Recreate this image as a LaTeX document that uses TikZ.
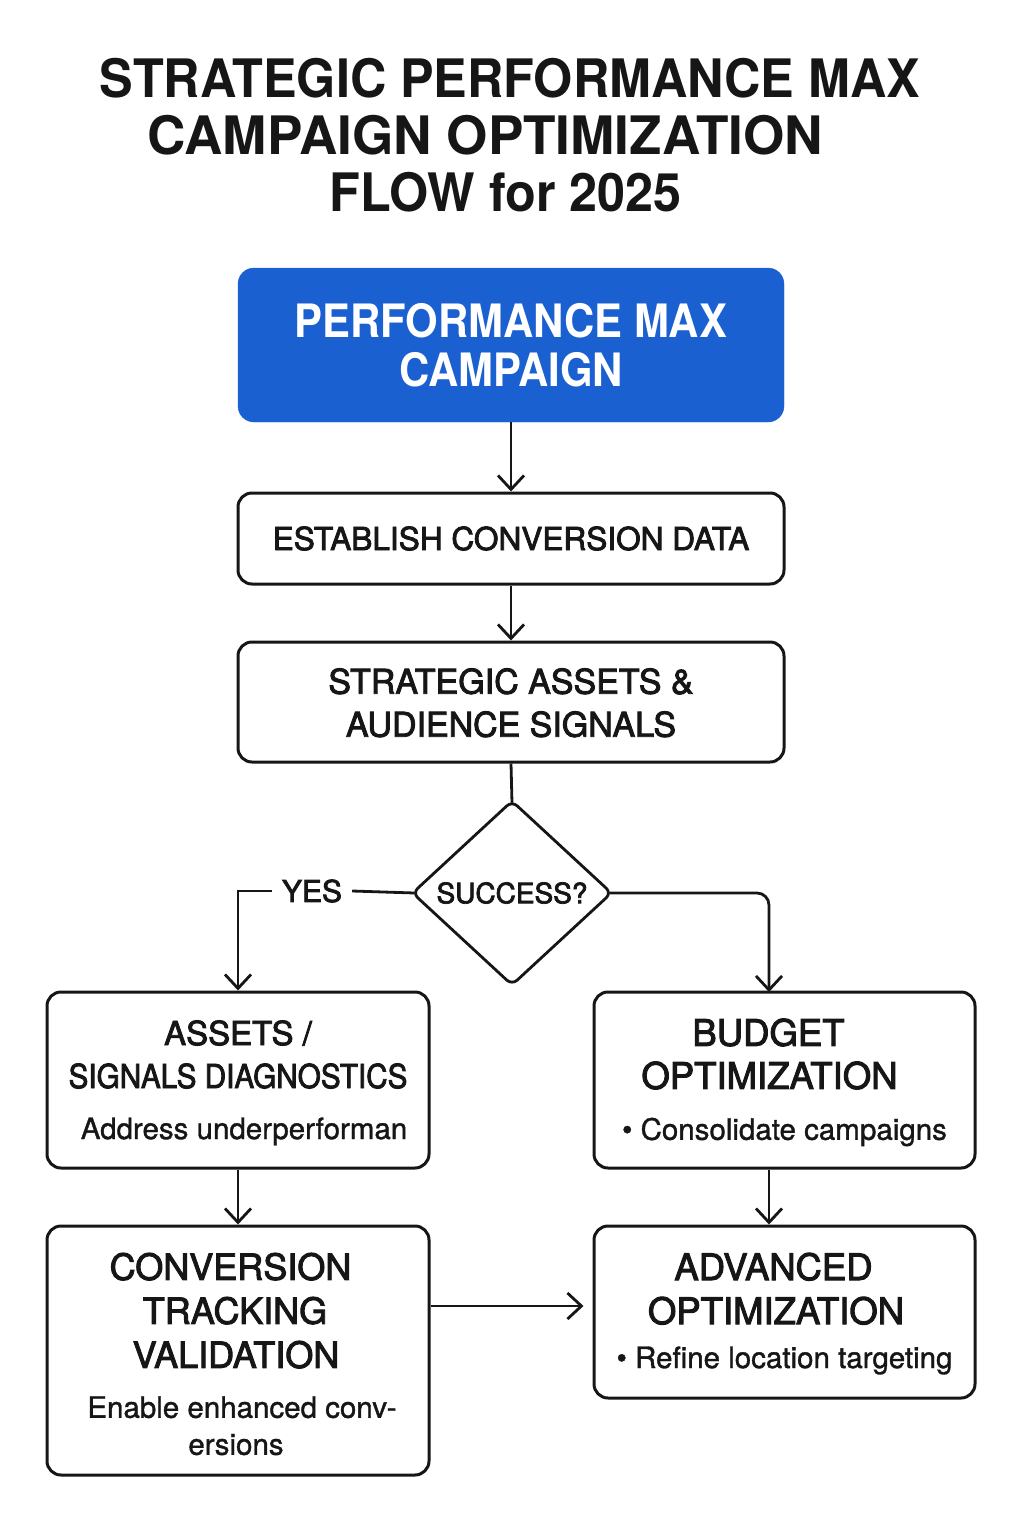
\documentclass[tikz,border=0pt]{standalone}
\usepackage{fontspec}
\setmainfont{TeX Gyre Heros}[FakeBold=1.2]
\newfontfamily\medfont{TeX Gyre Heros}[FakeBold=2.6]
\newfontfamily\titlefont{TeX Gyre Heros}[FakeStretch=0.95]
\newfontfamily\pmfont{TeX Gyre Heros}[FakeStretch=0.91]
\usetikzlibrary{arrows.meta,shapes.geometric}
\definecolor{pmblue}{RGB}{27,96,208}
\definecolor{ink}{RGB}{22,22,22}
\newcommand{\bdf}{\normalfont\fontsize{29.5}{43}\selectfont}
\tikzset{
  box/.style={draw=ink, line width=3pt, rounded corners=14pt, align=center, inner sep=0pt, text=ink},
  conn/.style={line width=2.8pt, draw=ink},
  arr/.style={conn, -{Straight Barb[length=14pt,width=26pt,line width=2.8pt]}},
}
\begin{document}
\begin{tikzpicture}[x=1pt,y=-1pt]
\useasboundingbox (0,0) rectangle (1024,1536);
% title
\node[font=\titlefont\bfseries\fontsize{53}{57}\selectfont, align=center, text=ink, inner sep=0pt] (title) at (510,135)
  {STRATEGIC PERFORMANCE MAX\\\scalebox{1.055}[1]{CAMPAIGN OPTIMIZATION}\kern49pt\\FLOW for 2025\kern9pt};
% blue box
\node[fill=pmblue, draw=pmblue, rounded corners=16pt, minimum width=546pt, minimum height=154pt,
      text=white, align=center, font=\pmfont\bfseries\fontsize{46}{49}\selectfont] (pm) at (511,345)
  {PERFORMANCE MAX\\CAMPAIGN};
\node[box, minimum width=546pt, minimum height=91pt, font=\medfont\fontsize{31.6}{43}\selectfont] (est) at (511,538.5)
  {ESTABLISH CONVERSION DATA};
\node[box, minimum width=546pt, minimum height=120pt, font=\medfont\fontsize{34}{43}\selectfont] (sa) at (511,702)
  {\rule{0pt}{27pt}STRATEGIC ASSETS \&\\AUDIENCE SIGNALS};
\node[diamond, draw=ink, line width=2.8pt, rounded corners=7pt, minimum width=200pt,
      minimum height=185pt, inner sep=0pt, text=ink, font=\medfont\fontsize{28}{32}\selectfont] (dec) at (512,893)
  {SUCCESS?};
\node[box, minimum width=382pt, minimum height=176pt, font=\medfont\fontsize{33}{43}\selectfont] (diag) at (238,1080)
  {\rule{0pt}{30.5pt}ASSETS /\\ \scalebox{0.9}[1]{SIGNALS DIAGNOSTICS}\\[8pt] \bdf\kern12pt Address underperforman};
\node[box, minimum width=381pt, minimum height=176pt, font=\medfont\fontsize{36.5}{43}\selectfont] (budget) at (784.5,1080)
  {\rule{0pt}{32pt}BUDGET\kern32pt\\ OPTIMIZATION\kern30pt\\[8pt] \bdf\textbullet\ Consolidate campaigns};
\node[box, minimum width=382pt, minimum height=249pt, font=\medfont\fontsize{36}{44}\selectfont] (conv) at (238,1350.5)
  {\rule{0pt}{34pt}CONVERSION\kern15pt\\ TRACKING\kern6pt\\ VALIDATION\kern4pt\\[6pt] \bdf Enable enhanced conv-\kern-8pt\\[-7pt] \bdf ersions\kern4pt};
\node[box, minimum width=381pt, minimum height=172pt, font=\medfont\fontsize{36.5}{44}\selectfont] (adv) at (784.5,1312)
  {\rule{0pt}{30.5pt}ADVANCED\kern22pt\\ OPTIMIZATION\kern17pt\\[0pt] \bdf\textbullet\ Refine location targeting};
% yes label
\node[font=\medfont\fontsize{30}{34}\selectfont, text=ink, inner xsep=10pt] (yes) at (312,891) {YES};
\coordinate (rr) at (769,992);
% connectors
\draw[arr] (pm.south) -- (est.north);
\draw[arr] (est.south) -- (sa.north);
\draw[conn] (sa.south) -- ([yshift=-4pt]dec.north);
\draw[conn] ([xshift=4pt]dec.west) -- (yes.east);
\draw[arr] (yes.west) -| (diag.north);
\draw[arr, rounded corners=12pt] ([xshift=-4pt]dec.east) -| (rr);
\draw[arr] (diag.south) -- (conv.north);
\draw[arr] (budget.south -| rr) -- (adv.north -| rr);
\draw[arr] (conv.east |- 0,1306) -- ([xshift=-9pt]adv.west |- 0,1306);
\end{tikzpicture}
\end{document}
